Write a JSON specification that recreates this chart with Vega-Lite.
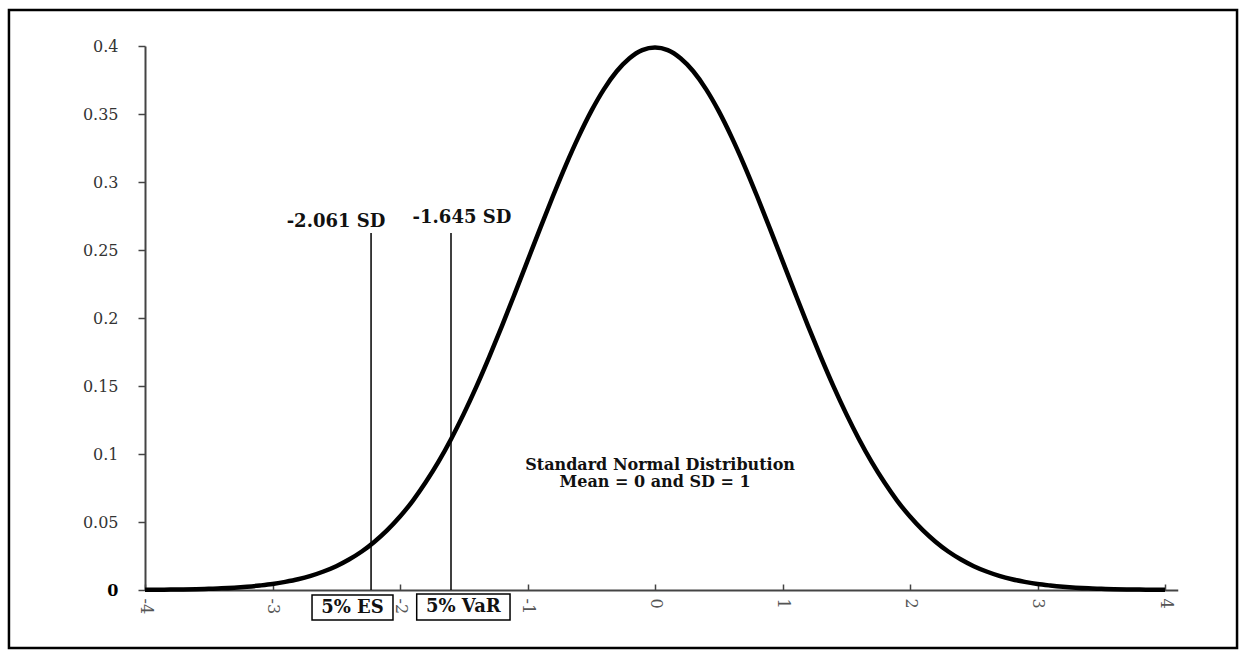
{
  "$schema": "https://vega.github.io/schema/vega-lite/v6.json",
  "autosize": {"type": "none"},
  "padding": {"left": 145, "top": 46, "right": 68, "bottom": 66},
  "width": 1032.75,
  "height": 544,
  "background": "white",
  "config": {
    "view": {"stroke": null},
    "axis": {"grid": false, "title": null}
  },
  "datasets": {
    "curve": [
      {"z": -4.0, "pdf": 0.0001}, {"z": -3.9, "pdf": 0.0002}, {"z": -3.8, "pdf": 0.0003}, {"z": -3.7, "pdf": 0.0004},
      {"z": -3.6, "pdf": 0.0006}, {"z": -3.5, "pdf": 0.0009}, {"z": -3.4, "pdf": 0.0012}, {"z": -3.3, "pdf": 0.0017},
      {"z": -3.2, "pdf": 0.0024}, {"z": -3.1, "pdf": 0.0033}, {"z": -3.0, "pdf": 0.0044}, {"z": -2.9, "pdf": 0.0060},
      {"z": -2.8, "pdf": 0.0079}, {"z": -2.7, "pdf": 0.0104}, {"z": -2.6, "pdf": 0.0136}, {"z": -2.5, "pdf": 0.0175},
      {"z": -2.4, "pdf": 0.0224}, {"z": -2.3, "pdf": 0.0283}, {"z": -2.2, "pdf": 0.0355}, {"z": -2.1, "pdf": 0.0440},
      {"z": -2.0, "pdf": 0.0540}, {"z": -1.9, "pdf": 0.0656}, {"z": -1.8, "pdf": 0.0790}, {"z": -1.7, "pdf": 0.0940},
      {"z": -1.6, "pdf": 0.1109}, {"z": -1.5, "pdf": 0.1295}, {"z": -1.4, "pdf": 0.1497}, {"z": -1.3, "pdf": 0.1714},
      {"z": -1.2, "pdf": 0.1942}, {"z": -1.1, "pdf": 0.2179}, {"z": -1.0, "pdf": 0.2420}, {"z": -0.9, "pdf": 0.2661},
      {"z": -0.8, "pdf": 0.2897}, {"z": -0.7, "pdf": 0.3123}, {"z": -0.6, "pdf": 0.3332}, {"z": -0.5, "pdf": 0.3521},
      {"z": -0.4, "pdf": 0.3683}, {"z": -0.3, "pdf": 0.3814}, {"z": -0.2, "pdf": 0.3910}, {"z": -0.1, "pdf": 0.3970},
      {"z": 0.0, "pdf": 0.3989},
      {"z": 0.1, "pdf": 0.3970}, {"z": 0.2, "pdf": 0.3910}, {"z": 0.3, "pdf": 0.3814}, {"z": 0.4, "pdf": 0.3683},
      {"z": 0.5, "pdf": 0.3521}, {"z": 0.6, "pdf": 0.3332}, {"z": 0.7, "pdf": 0.3123}, {"z": 0.8, "pdf": 0.2897},
      {"z": 0.9, "pdf": 0.2661}, {"z": 1.0, "pdf": 0.2420}, {"z": 1.1, "pdf": 0.2179}, {"z": 1.2, "pdf": 0.1942},
      {"z": 1.3, "pdf": 0.1714}, {"z": 1.4, "pdf": 0.1497}, {"z": 1.5, "pdf": 0.1295}, {"z": 1.6, "pdf": 0.1109},
      {"z": 1.7, "pdf": 0.0940}, {"z": 1.8, "pdf": 0.0790}, {"z": 1.9, "pdf": 0.0656}, {"z": 2.0, "pdf": 0.0540},
      {"z": 2.1, "pdf": 0.0440}, {"z": 2.2, "pdf": 0.0355}, {"z": 2.3, "pdf": 0.0283}, {"z": 2.4, "pdf": 0.0224},
      {"z": 2.5, "pdf": 0.0175}, {"z": 2.6, "pdf": 0.0136}, {"z": 2.7, "pdf": 0.0104}, {"z": 2.8, "pdf": 0.0079},
      {"z": 2.9, "pdf": 0.0060}, {"z": 3.0, "pdf": 0.0044}, {"z": 3.1, "pdf": 0.0033}, {"z": 3.2, "pdf": 0.0024},
      {"z": 3.3, "pdf": 0.0017}, {"z": 3.4, "pdf": 0.0012}, {"z": 3.5, "pdf": 0.0009}, {"z": 3.6, "pdf": 0.0006},
      {"z": 3.7, "pdf": 0.0004}, {"z": 3.8, "pdf": 0.0003}, {"z": 3.9, "pdf": 0.0002}, {"z": 4.0, "pdf": 0.0001}
    ],
    "frame": [{"x1": -5.067, "x2": 4.565, "y1": 0.4265, "y2": -0.0427}],
    "markers": [
      {"name": "ES", "z": -2.227, "base": 0, "top": 0.2625},
      {"name": "VaR", "z": -1.6, "base": 0, "top": 0.2625}
    ],
    "boxes": [
      {"name": "5% ES", "x1": -2.69, "x2": -2.055, "y1": -0.0037, "y2": -0.022, "cx": -2.373, "cy": -0.0129},
      {"name": "5% VaR", "x1": -1.869, "x2": -1.137, "y1": -0.0030, "y2": -0.022, "cx": -1.503, "cy": -0.0125}
    ],
    "labels": [
      {"text": "-2.061 SD", "x": -2.502, "y": 0.2706, "size": 18},
      {"text": "-1.645 SD", "x": -1.514, "y": 0.2732, "size": 18},
      {"text": "Standard Normal Distribution", "x": 0.04, "y": 0.0919, "size": 16},
      {"text": "Mean = 0 and SD = 1", "x": 0.0, "y": 0.0794, "size": 16}
    ]
  },
  "layer": [
    {
      "data": {"name": "curve"},
      "mark": {"type": "line", "color": "black", "strokeWidth": 4.5, "interpolate": "monotone", "clip": false},
      "encoding": {
        "x": {
          "field": "z", "type": "quantitative", "title": null,
          "scale": {"domain": [-4, 4.1], "nice": false, "zero": false},
          "axis": {
            "values": [-4, -3, -2, -1, 0, 1, 2, 3, 4],
            "labelExpr": "'' + datum.value",
            "labelAngle": 90,
            "labelFont": "DejaVu Serif",
            "labelFontSize": 16,
            "labelColor": "#555555",
            "tickColor": "#444444",
            "tickSize": -6,
            "tickWidth": 1.5,
            "domainColor": "#444444",
            "domainWidth": 2,
            "labelPadding": 14,
            "grid": false
          }
        },
        "y": {
          "field": "pdf", "type": "quantitative", "title": null,
          "scale": {"domain": [0, 0.4], "nice": false},
          "axis": {
            "values": [0, 0.05, 0.1, 0.15, 0.2, 0.25, 0.3, 0.35, 0.4],
            "format": ".2~f",
            "labelFont": "DejaVu Serif",
            "labelFontSize": 16,
            "labelColor": {"condition": {"test": "datum.value === 0", "value": "#000000"}, "value": "#333333"},
            "labelFontWeight": {"condition": {"test": "datum.value === 0", "value": "bold"}, "value": "normal"},
            "tickColor": "#444444",
            "tickSize": 7,
            "tickWidth": 1.5,
            "domainColor": "#444444",
            "domainWidth": 2,
            "labelPadding": 20,
            "grid": false
          }
        }
      }
    },
    {
      "data": {"name": "frame"},
      "mark": {"type": "rect", "fill": "white", "fillOpacity": 0, "stroke": "black", "strokeWidth": 2.5, "clip": false},
      "encoding": {
        "x": {"field": "x1", "type": "quantitative", "title": null},
        "x2": {"field": "x2"},
        "y": {"field": "y1", "type": "quantitative", "title": null},
        "y2": {"field": "y2"}
      }
    },
    {
      "data": {"name": "markers"},
      "mark": {"type": "rule", "color": "black", "strokeWidth": 1.5},
      "encoding": {
        "x": {"field": "z", "type": "quantitative", "title": null},
        "y": {"field": "base", "type": "quantitative", "title": null},
        "y2": {"field": "top"}
      }
    },
    {
      "data": {"name": "boxes"},
      "mark": {"type": "rect", "fill": "white", "stroke": "black", "strokeWidth": 1.5, "clip": false},
      "encoding": {
        "x": {"field": "x1", "type": "quantitative", "title": null},
        "x2": {"field": "x2"},
        "y": {"field": "y1", "type": "quantitative", "title": null},
        "y2": {"field": "y2"}
      }
    },
    {
      "data": {"name": "boxes"},
      "mark": {"type": "text", "font": "DejaVu Serif", "fontWeight": "bold", "fontSize": 18, "color": "#111111", "align": "center", "baseline": "middle", "clip": false},
      "encoding": {
        "x": {"field": "cx", "type": "quantitative", "title": null},
        "y": {"field": "cy", "type": "quantitative", "title": null},
        "text": {"field": "name"}
      }
    },
    {
      "data": {"name": "labels"},
      "mark": {"type": "text", "font": "DejaVu Serif", "fontWeight": "bold", "color": "#111111", "align": "center", "baseline": "middle"},
      "encoding": {
        "x": {"field": "x", "type": "quantitative", "title": null},
        "y": {"field": "y", "type": "quantitative", "title": null},
        "text": {"field": "text"},
        "size": {"field": "size", "type": "quantitative", "scale": null, "legend": null}
      }
    }
  ]
}
